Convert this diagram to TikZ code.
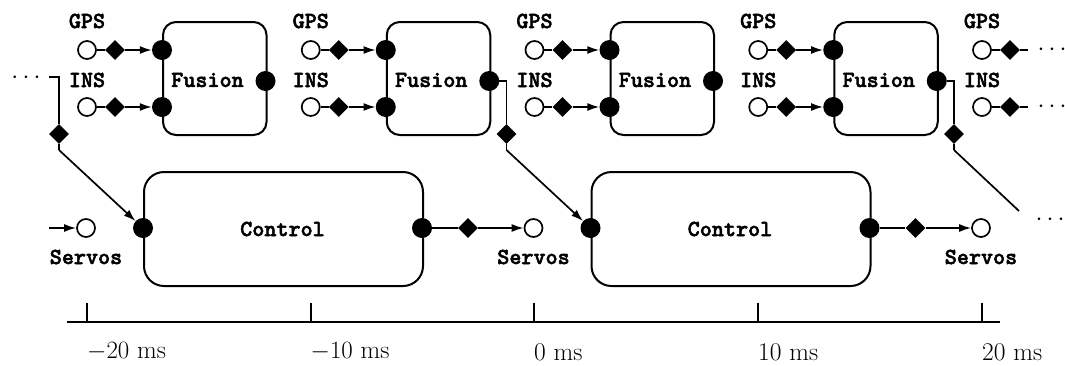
\documentclass[tikz,border=0pt]{standalone}
\usepackage{fontspec}
\newfontfamily\ttbold{lmmonolt10-bold.otf}[FakeBold=2.2]
\usetikzlibrary{shapes.geometric,arrows.meta}
\begin{document}
\begin{tikzpicture}[x=1pt,y=-1pt,
  lbl/.style={font=\fontsize{23}{26}\selectfont\ttbold, inner sep=0pt},
  port/.style={circle, draw, line width=1.7pt, fill=white, minimum size=18pt, inner sep=0pt},
  pin/.style={circle, fill=black, minimum size=20pt, inner sep=0pt},
  dia/.style={diamond, fill=black, minimum width=20pt, minimum height=20pt, inner sep=0pt, aspect=1},
  wire/.style={line width=1.7pt},
  arr/.style={wire, -{Latex[length=12pt,width=8pt]}},
  fbox/.style={draw, line width=2pt, rounded corners=13pt, minimum width=103.5pt, minimum height=113pt, anchor=north west, inner sep=0pt},
  cbox/.style={draw, line width=2pt, rounded corners=20pt, minimum width=279pt, minimum height=114pt, anchor=north west, inner sep=0pt},
  dotsnode/.style={font=\fontsize{24}{26}\selectfont, inner sep=0pt},
  time/.style={font=\fontsize{25.5}{28}\selectfont, anchor=west, inner sep=0pt}]
\useasboundingbox (0,0) rectangle (1065,365);

% sensor sampling fusion blocks, one every 10 ms
\foreach \i in {1,...,4}{
  \pgfmathsetmacro{\xl}{162+223.75*(\i-1)}
  \node[fbox] (F\i) at (\xl,21) {};
  \node[lbl] (Ft\i) at (\xl+45.5,80) {Fusion};
  \node[pin] (Fg\i) at (\xl,50) {};
  \node[pin] (Fi\i) at (\xl,107) {};
  \node[pin] (Fo\i) at (\xl+103.5,81) {};
}

% GPS and INS inputs
\foreach \k in {1,...,5}{
  \pgfmathsetmacro{\xs}{87+223.75*(\k-1)}
  \node[lbl] (Gl\k) at (\xs,21) {GPS};
  \node[lbl] (Il\k) at (\xs,80) {INS};
  \node[port] (Gc\k) at (\xs,50) {};
  \node[port] (Ic\k) at (\xs,107) {};
  \node[dia] (Gd\k) at (\xs+28,50) {};
  \node[dia] (Id\k) at (\xs+28,107) {};
  \draw[wire] (Gc\k.east) -- (Gd\k.west);
  \draw[wire] (Ic\k.east) -- (Id\k.west);
}
\foreach \k in {1,...,4}{
  \draw[arr] (Gd\k.east) -- (Fg\k.west);
  \draw[arr] (Id\k.east) -- (Fi\k.west);
}
\coordinate (Ge) at (1028,50);
\coordinate (Ie) at (1028,107);
\draw[wire] (Gd5.east) -- (Ge);
\draw[wire] (Id5.east) -- (Ie);
\node[dotsnode] (rg) at (1052,50) {$\cdots$};
\node[dotsnode] (ri) at (1052,107) {$\cdots$};

% control blocks, one every 20 ms
\foreach \j in {1,2}{
  \pgfmathsetmacro{\xc}{143+447.5*(\j-1)}
  \node[cbox] (C\j) at (\xc,171) {};
  \node[lbl] (Ct\j) at (\xc+139.5,229) {Control};
  \node[pin] (Cl\j) at (\xc,228) {};
  \node[pin] (Cr\j) at (\xc+279,228) {};
  \node[dia] (Cd\j) at (\xc+325,228) {};
}

% servo outputs
\foreach \m/\xs in {1/86,2/533.5,3/981}{
  \node[port] (S\m) at (\xs,228) {};
  \node[lbl] (Sl\m) at (\xs,257) {Servos};
}
\coordinate (S0) at (49,228);
\draw[arr] (S0) -- (S1.west);
\draw[wire] (Cr1.east) -- (Cd1.west);
\draw[arr] (Cd1.east) -- (S2.west);
\draw[wire] (Cr2.east) -- (Cd2.west);
\draw[arr] (Cd2.east) -- (S3.west);

% fusion result handed to the next control step
\node[dotsnode] (ld) at (26,78) {$\cdots$};
\coordinate (J0a) at (49,77);
\node[dia] (Jd0) at (59,134) {};
\coordinate (J0b) at (59,150);
\draw[wire] (J0a) -| (Jd0.north);
\draw[wire] (Jd0.south) -- (J0b);
\draw[arr] (J0b) -- (Cl1);

\node[dia] (Jd2) at (506.5,134) {};
\coordinate (J2b) at (506.5,150);
\draw[wire] (Fo2.east) -| (Jd2.north);
\draw[wire] (Jd2.south) -- (J2b);
\draw[arr] (J2b) -- (Cl2);

\node[dia] (Jd4) at (954,134) {};
\coordinate (J4b) at (954,150);
\coordinate (J4e) at (1019,211);
\draw[wire] (Fo4.east) -| (Jd4.north);
\draw[wire] (Jd4.south) -- (J4b);
\draw[wire] (J4b) -- (J4e);
\node[dotsnode] (bd) at (1050,220) {$\cdots$};

% time axis
\draw[line width=2pt] (67,322) -- (1000,322);
\foreach \t/\xt/\lab in {0/87/$-20$~ms,1/310.5/$-10$~ms,2/534/0~ms,3/758/10~ms,4/982/20~ms}{
  \draw[line width=2pt] (\xt,303) -- (\xt,322);
  \node[time] (T\t) at (\xt,352) {\lab};
}
\end{tikzpicture}
\end{document}
